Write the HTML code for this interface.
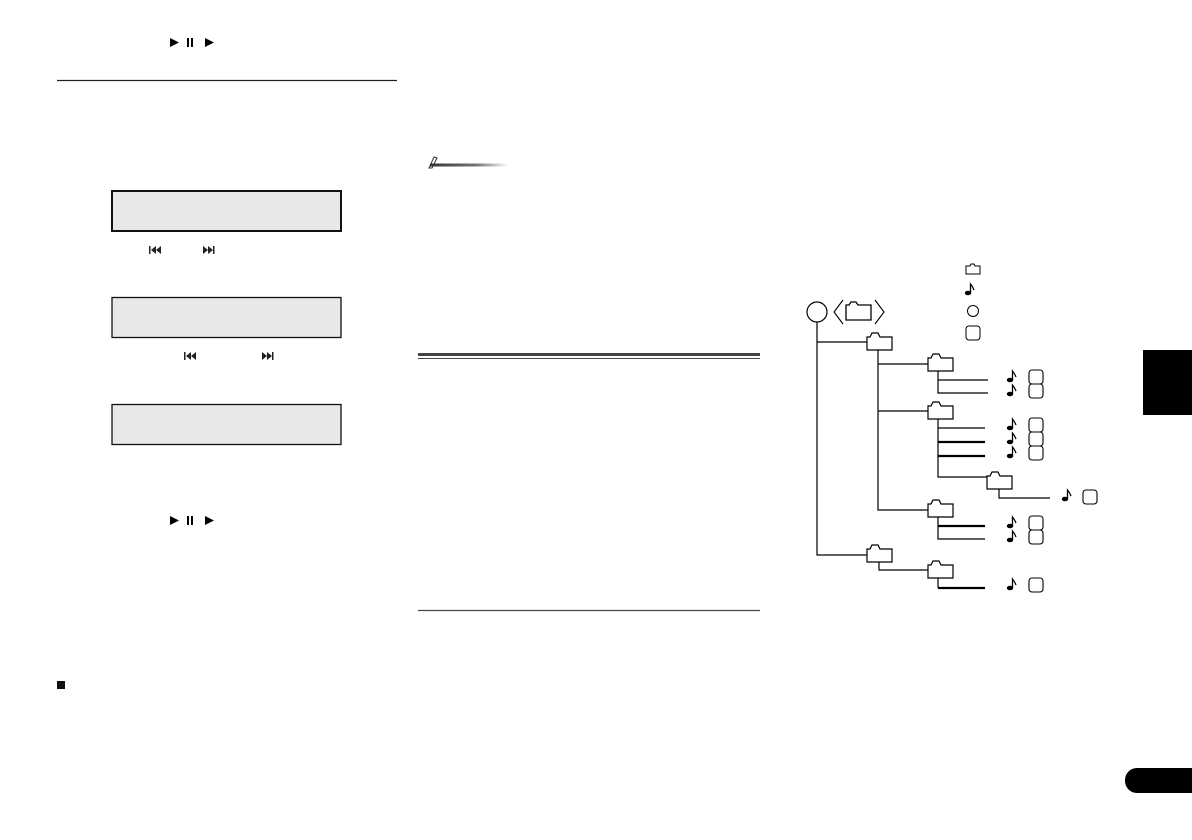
<!DOCTYPE html>
<html><head><style>
html,body{margin:0;padding:0;background:#fff;width:1192px;height:840px;overflow:hidden;font-family:"Liberation Sans",sans-serif}
</style></head><body>
<svg width="1192" height="840" viewBox="0 0 1192 840" xmlns="http://www.w3.org/2000/svg">
<defs>
<linearGradient id="g" x1="0" x2="1"><stop offset="0" stop-color="#333"/><stop offset="0.6" stop-color="#777"/><stop offset="1" stop-color="#fff"/></linearGradient>
<g id="fold"><path d="M0,4 L3,4 L5,0 L11,0 L13,4 L25,4 L25,17 L0,17 Z" fill="#fff" stroke="#000" stroke-width="1.2"/></g>
<g id="note"><ellipse cx="3" cy="9" rx="3.2" ry="2.3" fill="#000"/><path d="M5.5,9 L5.5,0 Q8,3 9,6" fill="none" stroke="#000" stroke-width="1.3"/></g>
<g id="box"><rect x="0" y="0" width="14" height="14" rx="3" fill="#fff" stroke="#000" stroke-width="1.1"/></g>
</defs>
<g fill="#000"><path d="M170,38 L179,42.5 L170,47Z"/><rect x="187" y="38" width="2" height="9"/><rect x="191" y="38" width="2" height="9"/><path d="M205,38 L214,42.5 L205,47Z"/>
<path d="M170,516 L179,520.5 L170,525Z"/><rect x="187" y="516" width="2" height="9"/><rect x="191" y="516" width="2" height="9"/><path d="M205,516 L214,520.5 L205,525Z"/></g>
<line x1="57" y1="80.5" x2="397" y2="80.5" stroke="#222" stroke-width="1.2"/>
<rect x="112" y="191" width="229" height="40" fill="#e8e8e8" stroke="#111" stroke-width="2"/>
<rect x="112" y="297.5" width="229" height="40" fill="#e8e8e8" stroke="#111" stroke-width="1.3"/>
<rect x="112" y="404.5" width="229" height="40" fill="#e8e8e8" stroke="#111" stroke-width="1.3"/>
<g fill="#222">
<rect x="149" y="246" width="1.5" height="8"/><path d="M151,250 L156,246 L156,254Z M156,250 L161,246 L161,254Z"/>
<path d="M203,246 L208,250 L203,254Z M208,246 L213,250 L208,254Z"/><rect x="213" y="246" width="1.5" height="8"/>
<rect x="184" y="352" width="1.5" height="8"/><path d="M186,356 L191,352 L191,360Z M191,356 L196,352 L196,360Z"/>
<path d="M262,352 L267,356 L262,360Z M267,352 L272,356 L267,360Z"/><rect x="272" y="352" width="1.5" height="8"/>
</g>
<path d="M429,168 L434,157 L437,158 L432,168Z" fill="none" stroke="#333" stroke-width="1"/>
<rect x="430" y="163.5" width="78" height="3" fill="url(#g)"/>
<rect x="418" y="353" width="342" height="3" fill="#444"/>
<line x1="418" y1="358.5" x2="760" y2="358.5" stroke="#444" stroke-width="1"/>
<line x1="418" y1="610.5" x2="760" y2="610.5" stroke="#444" stroke-width="1.2"/>
<rect x="57" y="681" width="8" height="8" fill="#111"/>
<rect x="1143" y="350" width="49" height="65" fill="#000"/>
<rect x="1125" y="768" width="80" height="25" rx="12" fill="#000"/>
<path d="M966,266 L970,266 L971,264 L974,264 L975,266 L980,266 L980,274 L966,274Z" fill="#fff" stroke="#000" stroke-width="1"/>
<use href="#note" x="965" y="284"/>
<circle cx="973" cy="311" r="5.5" fill="#fff" stroke="#000"/>
<rect x="966" y="326" width="14" height="14" rx="3" fill="#fff" stroke="#000"/>
<circle cx="817" cy="312" r="10" fill="#fff" stroke="#000" stroke-width="1.2"/>
<path d="M843,300 L834,312 L843,324 M875,300 L884,312 L875,324" fill="none" stroke="#000" stroke-width="1.1"/>
<path d="M846,305 L849,305 L851,302 L856,302 L858,305 L871,305 L871,320 L846,320Z" fill="#fff" stroke="#000" stroke-width="1.3"/>
<g fill="none" stroke="#000" stroke-width="1.2">
<path d="M817,322 V555 H867 M817,342 H867 M878,350 V510 H928 M878,364 H928 M878,411 H928"/>
<path d="M938,371 V393 H988 M938,380 H988"/>
<path d="M938,419 V477 H987 M938,428 H985"/>
<path d="M999,489 V498 H1050"/>
<path d="M938,517 V539 H985"/>
<path d="M879,562 V570 H928"/>
<path d="M938,578 V588"/>
</g>
<g stroke="#000" stroke-width="2.2"><path d="M938,442 H985 M938,456 H985 M938,526 H985 M938,588 H985"/></g>
<use href="#fold" x="867" y="333"/>
<use href="#fold" x="928" y="354"/>
<use href="#fold" x="928" y="402"/>
<use href="#fold" x="987" y="472"/>
<use href="#fold" x="928" y="500"/>
<use href="#fold" x="867" y="545"/>
<use href="#fold" x="928" y="561"/>
<use href="#note" x="1007" y="371"/><use href="#box" x="1029" y="370"/>
<use href="#note" x="1007" y="385"/><use href="#box" x="1029" y="384"/>
<use href="#note" x="1007" y="419"/><use href="#box" x="1029" y="418"/>
<use href="#note" x="1007" y="433"/><use href="#box" x="1029" y="432"/>
<use href="#note" x="1007" y="447"/><use href="#box" x="1029" y="446"/>
<use href="#note" x="1062" y="490"/><use href="#box" x="1083" y="490"/>
<use href="#note" x="1007" y="517"/><use href="#box" x="1029" y="516"/>
<use href="#note" x="1007" y="531"/><use href="#box" x="1029" y="530"/>
<use href="#note" x="1007" y="579"/><use href="#box" x="1029" y="578"/>
</svg>
</body></html>
